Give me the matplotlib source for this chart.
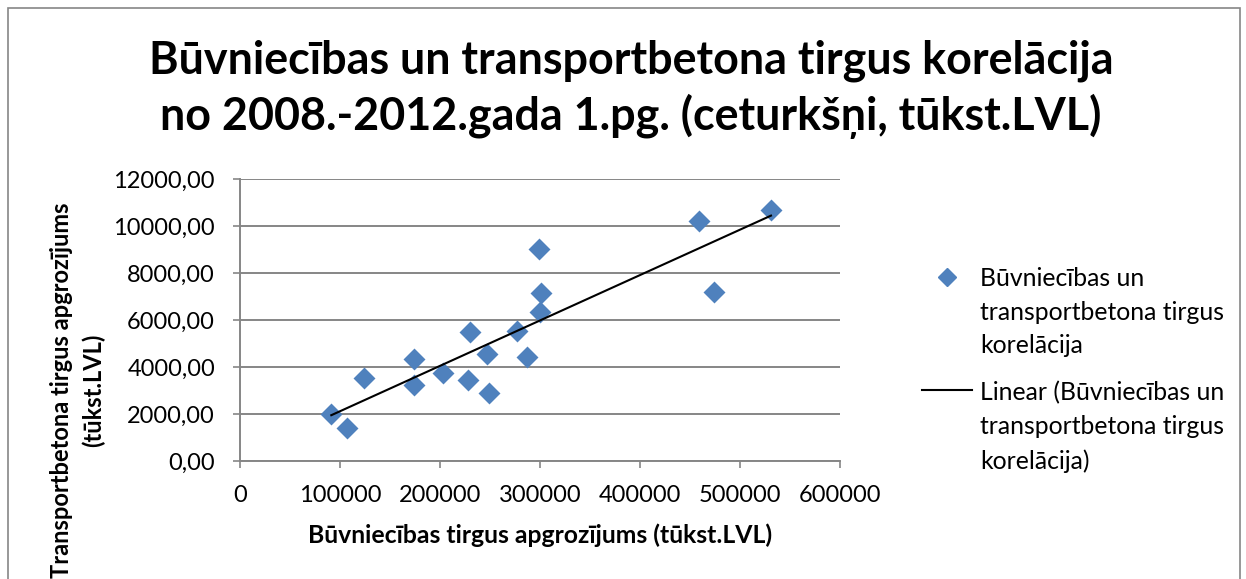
import numpy as np
import matplotlib.pyplot as plt
from matplotlib.lines import Line2D
from matplotlib.patches import Rectangle

plt.rcParams["font.family"] = ["Lato", "DejaVu Sans"]

# quarterly turnover, thousand LVL
construction = [91300, 107200, 123800, 174400, 173600, 202800, 229700, 228200, 246700,
                248700, 276800, 287100, 299300, 301300, 299700, 458700, 473700, 531000]
ready_mix = [2000, 1404, 3518, 4340, 3248, 3730, 5475, 3447, 4553,
             2894, 5532, 4411, 9021, 7135, 6355, 10213, 7206, 10681]

x_ticks = [0, 100000, 200000, 300000, 400000, 500000, 600000]
y_ticks = [0, 2000, 4000, 6000, 8000, 10000, 12000]

title_lines = ["Būvniecības un transportbetona tirgus korelācija",
               "no 2008.-2012.gada 1.pg. (ceturkšņi, tūkst.LVL)"]
xlabel = "Būvniecības tirgus apgrozījums (tūkst.LVL)"
ylabel_lines = ["Transportbetona tirgus apgrozījums", "(tūkst.LVL)"]
series_label = "Būvniecības un\ntransportbetona tirgus\nkorelācija"
trend_label = "Linear (Būvniecības un\ntransportbetona tirgus\nkorelācija)"

BLUE = "#4F81BD"
GRID = "#868686"

W, H = 1246, 579
fig = plt.figure(figsize=(W / 100, H / 100), dpi=100)
ax = fig.add_axes([240 / W, 1 - 461 / H, 600 / W, 282 / H])

x = np.array(construction)
y = np.array(ready_mix)
ax.scatter(x, y, marker="D", s=125, color=BLUE, zorder=3, linewidths=0)

# linear trendline over the data range
k, b = np.polyfit(x, y, 1)
xt = np.array([x.min(), x.max()])
ax.plot(xt, k * xt + b, color="black", lw=1.5, zorder=4)

ax.set_xlim(0, 600000)
ax.set_ylim(0, 12000)
ax.set_xticks(x_ticks)
ax.set_yticks(y_ticks)
ax.set_xticklabels([str(v) for v in x_ticks])
ax.set_yticklabels([f"{v},00" for v in y_ticks])

ax.grid(axis="y", color=GRID, lw=1.4)
ax.set_axisbelow(True)
for s in ["top", "right"]:
    ax.spines[s].set_visible(False)
for s in ["left", "bottom"]:
    ax.spines[s].set_color(GRID)
    ax.spines[s].set_linewidth(1.4)
ax.tick_params(axis="both", colors=GRID, labelcolor="black", labelsize=17, length=5, width=1.2)
ax.tick_params(axis="x", pad=12)
ax.tick_params(axis="y", pad=13)

# title, one text per line so the baselines land where the original has them
for line, base in zip(title_lines, [73, 130]):
    fig.text(631 / W, 1 - base / H, line, ha="center", va="baseline",
             fontsize=32.3, fontweight="bold")

fig.text(540 / W, 1 - 543 / H, xlabel, ha="center", va="baseline",
         fontsize=17.8, fontweight="bold")
for line, xc in zip(ylabel_lines, [62, 93]):
    fig.text(xc / W, 1 - 390 / H, line, ha="center", va="center", rotation=90,
             fontsize=17, fontweight="bold")

# legend drawn by hand so the keys sit on the first line of each entry
fig.add_artist(Line2D([947 / W], [1 - 277 / H], marker="D", markersize=9.5, color=BLUE,
                      linestyle="none", transform=fig.transFigure))
fig.add_artist(Line2D([922 / W, 972 / W], [1 - 390 / H, 1 - 390 / H], color="black",
                      lw=1.5, transform=fig.transFigure))
fig.text(980 / W, 1 - 267 / H, series_label, ha="left", va="top", fontsize=17.8, linespacing=1.56)
fig.text(980 / W, 1 - 381 / H, trend_label, ha="left", va="top", fontsize=17.8, linespacing=1.56)

fig.add_artist(Rectangle((8 / W, -0.05), 1232 / W, 1.05 - 8 / H, transform=fig.transFigure,
                         fill=False, edgecolor=GRID, lw=1.2))

fig.savefig("out.png", dpi=100)
